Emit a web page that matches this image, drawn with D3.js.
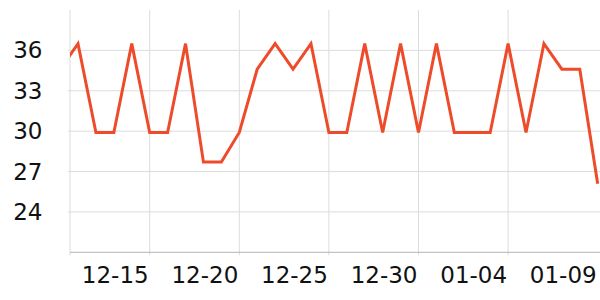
<!DOCTYPE html>
<html>
<head>
<meta charset="utf-8">
<script src="https://cdn.jsdelivr.net/npm/d3@7"></script>
<style>
  html, body { margin: 0; padding: 0; background: #fff; }
  svg { display: block; font-family: "DejaVu Sans", sans-serif; }
</style>
</head>
<body>
<svg id="chart" width="600" height="300"></svg>
<script>
// ---- data ----
const dates = [
  "2023-12-10","2023-12-11","2023-12-12","2023-12-13","2023-12-14","2023-12-15",
  "2023-12-16","2023-12-17","2023-12-18","2023-12-19","2023-12-20","2023-12-21",
  "2023-12-22","2023-12-23","2023-12-24","2023-12-25","2023-12-26","2023-12-27",
  "2023-12-28","2023-12-29","2023-12-30","2023-12-31","2024-01-01","2024-01-02",
  "2024-01-03","2024-01-04","2024-01-05","2024-01-06","2024-01-07","2024-01-08",
  "2024-01-09"
];
const values = [
  34.6, 36.5, 29.9, 29.9, 36.5, 29.9,
  29.9, 36.5, 27.7, 27.7, 29.9, 34.6,
  36.5, 34.6, 36.5, 29.9, 29.9, 36.5,
  29.9, 36.5, 29.9, 36.5, 29.9, 29.9,
  29.9, 36.5, 29.9, 36.5, 34.6, 34.6,
  26.1
];
const xTickDates = ["2023-12-15","2023-12-20","2023-12-25","2023-12-30","2024-01-04","2024-01-09"];
const yTicks = [24, 27, 30, 33, 36];
const yDomain = [21, 39];

// ---- layout ----
const W = 600, H = 300;
const plot = { left: 70, right: 600, top: 10, bottom: 252.3 };

const parse = d3.utcParse("%Y-%m-%d");
const fmt = d3.utcFormat("%m-%d");
const data = dates.map((d, i) => ({ date: parse(d), value: values[i] }));

const dayMs = 86400000;
// 12-11 at x=78, 01-09 at x=597.7
const d0 = parse("2023-12-11"), d1 = parse("2024-01-09");
const x = d3.scaleUtc().domain([d0, d1]).range([78, 597.7]);
const y = d3.scaleLinear().domain(yDomain).range([plot.bottom, plot.top]);

const svg = d3.select("#chart");

// clip
svg.append("defs").append("clipPath").attr("id", "clip")
  .append("rect")
  .attr("x", plot.left).attr("y", plot.top - 5)
  .attr("width", plot.right - plot.left).attr("height", plot.bottom - plot.top + 10);

// horizontal grid
svg.append("g").selectAll("line").data(yTicks).join("line")
  .attr("x1", plot.left - 2).attr("x2", plot.right)
  .attr("y1", d => y(d)).attr("y2", d => y(d))
  .attr("stroke", "#dcdcdc").attr("stroke-width", 1);

// vertical grid (left edge + ticks inside plot)
const xTicks = xTickDates.map(parse);
const vLines = [plot.left].concat(xTicks.map(d => x(d)).filter(v => v < plot.right - 4));
svg.append("g").selectAll("line").data(vLines).join("line")
  .attr("x1", d => d).attr("x2", d => d)
  .attr("y1", plot.top).attr("y2", plot.bottom + 3)
  .attr("stroke", "#dcdcdc").attr("stroke-width", 1);

// bottom axis line
svg.append("line")
  .attr("x1", plot.left).attr("x2", plot.right)
  .attr("y1", plot.bottom).attr("y2", plot.bottom)
  .attr("stroke", "#b4b4b4").attr("stroke-width", 1);

// y labels
svg.append("g").selectAll("text").data(yTicks).join("text")
  .attr("x", 42.5).attr("y", d => y(d))
  .attr("text-anchor", "end").attr("dominant-baseline", "central")
  .attr("font-size", 23).attr("fill", "#111")
  .text(d => d);

// x labels (right-aligned to tick)
svg.append("g").selectAll("text").data(xTicks).join("text")
  .attr("x", d => Math.min(x(d), plot.right) - 1)
  .attr("y", 283)
  .attr("text-anchor", "end")
  .attr("font-size", 23).attr("fill", "#111")
  .text(d => fmt(d));

// line
const line = d3.line().x(d => x(d.date)).y(d => y(d.value));
svg.append("path")
  .datum(data)
  .attr("clip-path", "url(#clip)")
  .attr("d", line)
  .attr("fill", "none")
  .attr("stroke", "#ee4b2b")
  .attr("stroke-width", 3)
  .attr("stroke-linejoin", "miter");
</script>
</body>
</html>
